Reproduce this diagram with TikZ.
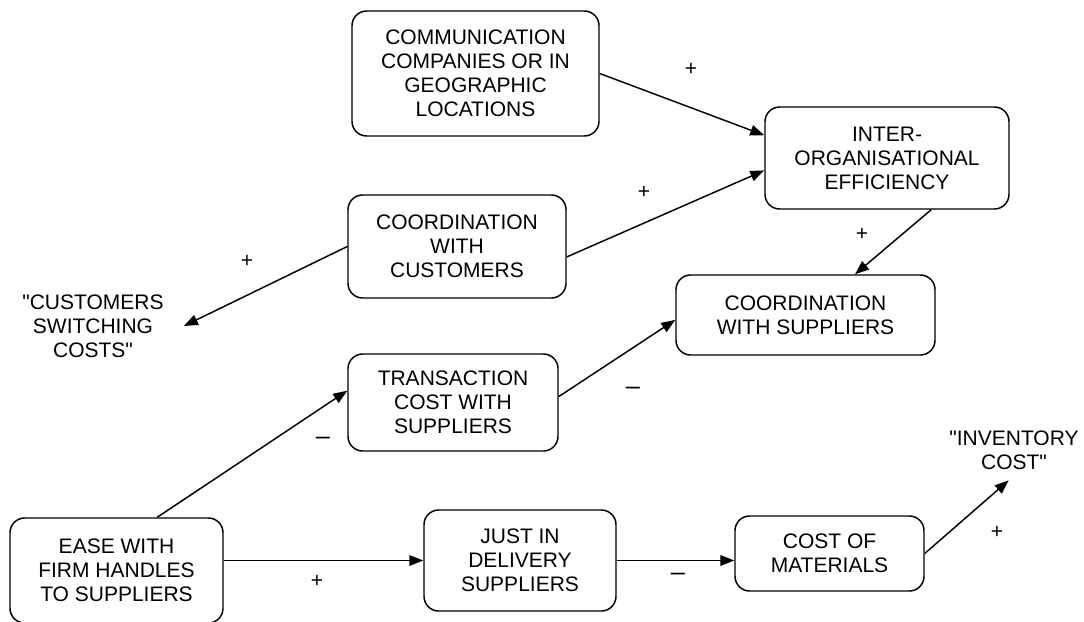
\documentclass[tikz,border=0pt]{standalone}
\usepackage{fontspec}
\setmainfont{Liberation Sans}
\usetikzlibrary{arrows.meta,calc}

\begin{document}
\begin{tikzpicture}[x=0.75pt, y=-0.75pt,
  every node/.style={font=\fontsize{15.75pt}{18pt}\selectfont},
  box/.style={draw, rectangle, rounded corners=11pt, line width=1.1pt, align=center, inner sep=0pt},
  note/.style={align=center, inner sep=2pt},
  sign/.style={inner sep=0pt},
  minus/.style={sign, font=\fontsize{19pt}{19pt}\selectfont},
  link/.style={-{Triangle[length=10.5pt,width=8pt]}, line width=1.1pt}]
  \useasboundingbox (0,0) rectangle (1084,621);
  % Boxes
  \node[box, minimum width=185.25pt, minimum height=93.75pt] (comm) at (475.5,73.5) {COMMUNICATION\\COMPANIES OR IN\\GEOGRAPHIC\\LOCATIONS};
  \node[box, minimum width=183pt, minimum height=76.5pt] (inter) at (887,158) {INTER-\\ORGANISATIONAL\\EFFICIENCY};
  \node[box, minimum width=163.5pt, minimum height=77.25pt] (cust) at (457,246.5) {COORDINATION\\WITH\\CUSTOMERS};
  \node[box, minimum width=194.25pt, minimum height=60pt] (sup) at (805.5,315) {COORDINATION\\WITH SUPPLIERS};
  \node[box, minimum width=157.5pt, minimum height=72.75pt] (trans) at (453,402.5) {TRANSACTION\\COST WITH\\SUPPLIERS};
  \node[box, minimum width=159.75pt, minimum height=78.75pt] (ease) at (116.5,570.5) {EASE WITH\\FIRM HANDLES\\TO SUPPLIERS};
  \node[box, minimum width=144pt, minimum height=75.75pt] (just) at (520,560.5) {JUST IN\\DELIVERY\\SUPPLIERS};
  \node[box, minimum width=141.75pt, minimum height=56.25pt] (mat) at (829.5,553.5) {COST OF\\MATERIALS};
  % Outside effects
  \node[note, inner xsep=15pt] (switch) at (93,326) {\textquotedbl CUSTOMERS\\SWITCHING\\COSTS\textquotedbl};
  \node[note] (inv) at (1014,450) {\textquotedbl INVENTORY\\COST\textquotedbl};
  % Links
  \draw[link] (comm.east) -- ($(inter.north west)!0.28!(inter.south west)$);
  \draw[link] ($(cust.north east)!0.6!(cust.south east)$) -- ($(inter.north west)!0.62!(inter.south west)$);
  \draw[link] ($(inter.south west)!0.68!(inter.south east)$) -- ($(sup.north west)!0.69!(sup.north east)$);
  \draw[link] (cust.west) -- (switch.east);
  \draw[link] ($(ease.north west)!0.69!(ease.north east)$) -- ($(trans.north west)!0.38!(trans.south west)$);
  \draw[link] ($(trans.north east)!0.44!(trans.south east)$) -- ($(sup.north west)!0.56!(sup.south west)$);
  \draw[link] (ease.east |- just.west) -- (just.west);
  \draw[link] (just.east) -- (just.east -| mat.west);
  \draw[link] (mat.east) -- ([xshift=-4pt,yshift=-6pt]inv.south);
  % Signs
  \node[sign] (s1) at (691,69) {+};
  \node[sign] (s2) at (644,192) {+};
  \node[sign] (s3) at (862,234) {+};
  \node[sign] (s4) at (247,261) {+};
  \node[minus] (s5) at (323,441) {--};
  \node[minus] (s6) at (633,391) {--};
  \node[sign] (s7) at (317,581) {+};
  \node[minus] (s8) at (678,577) {--};
  \node[sign] (s9) at (997,532) {+};
\end{tikzpicture}
\end{document}
